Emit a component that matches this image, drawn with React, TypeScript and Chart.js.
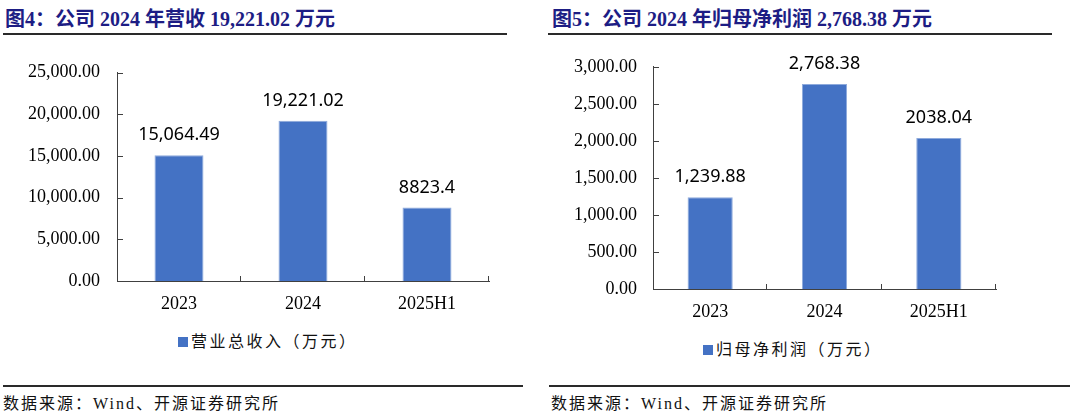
import React, { useEffect, useRef } from "react";
import { Chart, registerables } from "chart.js";

Chart.register(...registerables);

const categories = ["2023", "2024", "2025H1"];
const revenueValues = [15064.49, 19221.02, 8823.4];
const revenueLabels = ["15,064.49", "19,221.02", "8823.4"];
const profitValues = [1239.88, 2768.38, 2038.04];
const profitLabels = ["1,239.88", "2,768.38", "2038.04"];
const revenueAxis = { max: 25000, step: 5000 };
const profitAxis = { max: 3000, step: 500 };

const TITLE_COLOR = "#1d1d84";
const BAR_COLOR = "#4472c4";
const AXIS_COLOR = "#404040";
const SERIF = "'Liberation Serif', 'Noto Sans CJK SC', serif";
const CJK = "'Liberation Serif', 'Noto Sans CJK SC', sans-serif";

const decorPlugin = {
  id: "decor",
  afterDatasetsDraw(chart: any, _args: any, opts: any) {
    const ctx = chart.ctx;
    const meta = chart.getDatasetMeta(0);
    ctx.save();
    ctx.font = '18px "Noto Sans"';
    ctx.fillStyle = "#000";
    ctx.textAlign = "center";
    ctx.textBaseline = "middle";
    meta.data.forEach((bar: any, i: number) => {
      ctx.fillText(opts.labels[i], bar.x, bar.y - 20);
    });
    const xs = chart.scales.x;
    const ys = chart.scales.y;
    ctx.strokeStyle = AXIS_COLOR;
    ctx.lineWidth = 1;
    ctx.beginPath();
    const n = xs.ticks.length;
    for (let i = 1; i <= n; i++) {
      const px = Math.round(xs.left + ((xs.right - xs.left) * i) / n) - 0.5;
      ctx.moveTo(px, xs.top);
      ctx.lineTo(px, xs.top - 5);
    }
    ys.ticks.forEach((_t: any, i: number) => {
      const py = Math.round(ys.getPixelForTick(i)) + 0.5;
      ctx.moveTo(ys.right, py);
      ctx.lineTo(ys.right + 6, py);
    });
    ctx.stroke();
    ctx.restore();
  },
};

type PanelProps = {
  left: number;
  values: number[];
  labels: string[];
  axis: { max: number; step: number };
  yWidth: number;
  padRight: number;
  padTop: number;
  xHeight: number;
  yPad: number;
};

function BarPanel(p: PanelProps) {
  const ref = useRef<HTMLCanvasElement | null>(null);
  useEffect(() => {
    if (!ref.current) return;
    const chart = new Chart(ref.current, {
      type: "bar",
      data: {
        labels: categories,
        datasets: [
          {
            data: p.values,
            backgroundColor: BAR_COLOR,
            borderColor: "#8eaadc",
            borderWidth: 1,
            borderSkipped: "bottom",
            categoryPercentage: 0.395,
            barPercentage: 1,
          },
        ],
      },
      options: {
        responsive: false,
        animation: false,
        events: [],
        layout: { padding: { left: 0, right: p.padRight, top: p.padTop, bottom: 0 } },
        plugins: {
          legend: { display: false },
          tooltip: { enabled: false },
          decor: { labels: p.labels },
        } as any,
        scales: {
          x: {
            grid: { display: false, drawTicks: false },
            border: { display: true, color: AXIS_COLOR, width: 1 },
            ticks: {
              color: "#000",
              padding: 12,
              font: { family: "'Liberation Serif'", size: 18 },
            },
            afterFit: (s: any) => {
              s.height = p.xHeight;
            },
          },
          y: {
            min: 0,
            max: p.axis.max,
            grid: { display: false, drawTicks: false },
            border: { display: true, color: AXIS_COLOR, width: 1 },
            ticks: {
              stepSize: p.axis.step,
              color: "#000",
              padding: p.yPad,
              font: { family: "'Liberation Serif'", size: 18 },
              callback: (v: any) =>
                Number(v).toLocaleString("en-US", {
                  minimumFractionDigits: 2,
                  maximumFractionDigits: 2,
                }),
            },
            afterFit: (s: any) => {
              s.width = p.yWidth;
            },
          },
        },
      },
      plugins: [decorPlugin],
    });
    return () => chart.destroy();
  }, []);
  return (
    <canvas
      ref={ref}
      width={530}
      height={290}
      style={{ position: "absolute", left: p.left, top: 40, width: 530, height: 290 }}
    />
  );
}

function Text(props: { x: number; y: number; children: any; style?: any }) {
  return (
    <div
      style={{
        position: "absolute",
        left: props.x,
        top: props.y,
        whiteSpace: "nowrap",
        lineHeight: "1",
        transform: "translateY(-50%)",
        ...props.style,
      }}
    >
      {props.children}
    </div>
  );
}

function Rule(props: { x1: number; x2: number; y: number }) {
  return (
    <div
      style={{
        position: "absolute",
        left: props.x1,
        top: props.y - 1,
        width: props.x2 - props.x1,
        height: 1.6,
        background: "#2a2a2a",
      }}
    />
  );
}

function Legend(props: { x: number; y: number; text: string }) {
  return (
    <div
      style={{
        position: "absolute",
        left: props.x,
        top: props.y,
        transform: "translateY(-50%)",
        display: "flex",
        alignItems: "center",
        whiteSpace: "nowrap",
      }}
    >
      <span style={{ display: "inline-block", width: 10, height: 10, background: BAR_COLOR, marginRight: 3 }} />
      <span style={{ fontFamily: CJK, fontSize: 16, letterSpacing: 2.5, color: "#111", lineHeight: "1" }}>{props.text}</span>
    </div>
  );
}

const titleStyle = { fontFamily: SERIF, fontWeight: 700, fontSize: 20, color: TITLE_COLOR };
const sourceStyle = { fontFamily: CJK, fontSize: 16, letterSpacing: 2, color: "#111" };

export default function App() {
  useEffect(() => {
    document.body.style.margin = "0";
  }, []);
  return (
    <div style={{ position: "relative", width: 1080, height: 418, background: "#fff", overflow: "hidden" }}>
      <Text x={5} y={19} style={titleStyle}>图4：公司 2024 年营收 19,221.02 万元</Text>
      <Text x={552} y={19} style={titleStyle}>图5：公司 2024 年归母净利润 2,768.38 万元</Text>
      <Rule x1={3} x2={507} y={34} />
      <Rule x1={548} x2={1052} y={34} />
      <BarPanel
        left={0}
        values={revenueValues}
        labels={revenueLabels}
        axis={revenueAxis}
        yWidth={117}
        padRight={41}
        padTop={32.5}
        xHeight={49}
        yPad={17}
      />
      <BarPanel
        left={540}
        values={profitValues}
        labels={profitLabels}
        axis={profitAxis}
        yWidth={113}
        padRight={74}
        padTop={25}
        xHeight={41}
        yPad={16}
      />
      <Legend x={178} y={342} text="营业总收入（万元）" />
      <Legend x={703} y={350} text="归母净利润（万元）" />
      <Rule x1={3} x2={523} y={386} />
      <Rule x1={549} x2={1070} y={386} />
      <Text x={3} y={404} style={sourceStyle}>数据来源：Wind、开源证券研究所</Text>
      <Text x={551} y={404} style={sourceStyle}>数据来源：Wind、开源证券研究所</Text>
    </div>
  );
}
